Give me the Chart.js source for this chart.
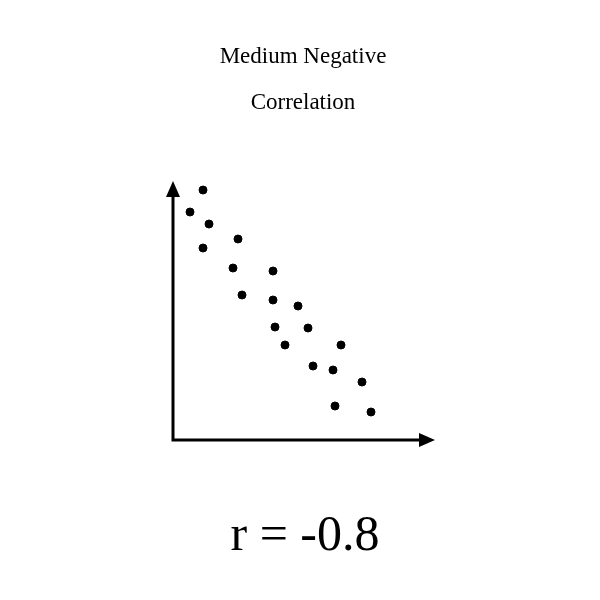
<!DOCTYPE html>
<html>
<head>
<meta charset="utf-8">
<script src="https://cdn.jsdelivr.net/npm/chart.js@4"></script>
<style>
  html, body { margin: 0; padding: 0; background: #fff; }
  #wrap { width: 600px; height: 600px; }
</style>
</head>
<body>
<div id="wrap"><canvas id="c" width="600" height="600"></canvas></div>
<script>
// scatter values
const xValues = [30, 17, 36, 65, 30, 60, 100, 69, 100, 125, 102, 135, 112, 168, 140, 160, 189, 162, 198];
const yValues = [250, 228, 216, 201, 192, 172, 169, 145, 140, 134, 113, 112, 95, 95, 74, 70, 58, 34, 28];
const titleLines = ['Medium Negative', 'Correlation'];
const rLabel = 'r = -0.8';

const points = xValues.map((x, i) => ({ x: x, y: yValues[i] }));

const decor = {
    id: 'decor',
    afterDraw(chart) {
        const ctx = chart.ctx;
        const a = chart.chartArea;
        ctx.save();
        ctx.fillStyle = '#000';
        ctx.strokeStyle = '#000';
        ctx.lineWidth = 3;
        // axes
        ctx.beginPath();
        ctx.moveTo(a.left, a.top + 8);
        ctx.lineTo(a.left, a.bottom);
        ctx.lineTo(a.right - 8, a.bottom);
        ctx.stroke();
        // arrow heads
        ctx.beginPath();
        ctx.moveTo(a.left, a.top - 2);
        ctx.lineTo(a.left - 7, a.top + 14);
        ctx.lineTo(a.left + 7, a.top + 14);
        ctx.closePath();
        ctx.fill();
        ctx.beginPath();
        ctx.moveTo(a.right + 2, a.bottom);
        ctx.lineTo(a.right - 14, a.bottom - 7);
        ctx.lineTo(a.right - 14, a.bottom + 7);
        ctx.closePath();
        ctx.fill();
        // texts
        ctx.textAlign = 'center';
        ctx.textBaseline = 'middle';
        ctx.font = '23px "Liberation Serif", serif';
        ctx.fillText(titleLines[0], 303, 57);
        ctx.fillText(titleLines[1], 303, 103);
        ctx.font = '50px "Liberation Serif", serif';
        ctx.fillText(rLabel, 305, 537);
        ctx.restore();
    }
};

new Chart(document.getElementById('c').getContext('2d'), {
    type: 'scatter',
    data: {
        datasets: [{
            data: points,
            backgroundColor: '#000',
            borderColor: '#000',
            pointRadius: 4,
            pointHoverRadius: 4
        }]
    },
    options: {
        responsive: false,
        animation: false,
        layout: { padding: { left: 173, right: 167, top: 183, bottom: 160 } },
        plugins: { legend: { display: false }, tooltip: { enabled: false } },
        scales: {
            x: { display: false, min: 0, max: 260 },
            y: { display: false, min: 0, max: 257 }
        }
    },
    plugins: [decor]
});
</script>
</body>
</html>
